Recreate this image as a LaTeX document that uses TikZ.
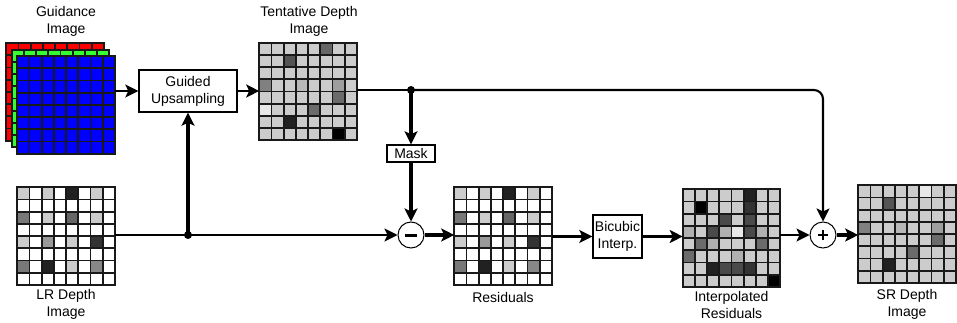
\documentclass[tikz,border=0pt]{standalone}
\usepackage{fontspec}
\setmainfont{Liberation Sans}
\usetikzlibrary{arrows.meta,calc}
\definecolor{gred}{RGB}{255,0,0}
\definecolor{ggreen}{RGB}{51,255,51}
\definecolor{gblue}{RGB}{0,0,255}
\definecolor{cellL}{gray}{0.8}
\newcommand\gridcells[3]{%
  \begin{scope}[shift={(#1.north west)}]
    \fill[#2] (0,0) rectangle (97.6,97.6);
    \foreach \i/\j/\cc in {#3} {\fill[\cc] (\i*12.2,\j*12.2) rectangle ++(12.2,12.2);}
    \foreach \k in {0,...,8} {
      \draw[gridline] ({\k*12.2},0) -- ({\k*12.2},97.6);
      \draw[gridline] (0,{\k*12.2}) -- (97.6,{\k*12.2});
    }
  \end{scope}}
\tikzset{
  gridnode/.style={minimum size=97.6pt, inner sep=0pt, outer sep=0pt},
  gridline/.style={line width=1.8pt, black!90, line cap=rect},
  boxnode/.style={draw, line width=1.4pt, align=center, inner sep=2pt, fill=white},
  lbl/.style={align=center, inner sep=0pt},
  tip/.style={-{Stealth[length=13pt,width=13pt,inset=3pt]}},
  wire/.style={line width=2.1pt},
  heavy/.style={line width=3.1pt},
  opnode/.style={circle, draw, line width=1pt, minimum size=26pt, inner sep=0pt, fill=white},
  dot/.style={circle, fill=black, inner sep=0pt, minimum size=8pt}
}
\begin{document}
\begin{tikzpicture}[x=1pt,y=-1pt,font=\fontsize{14}{17}\selectfont]
\useasboundingbox (0,0) rectangle (957,323);
% grid nodes
\node[gridnode] (guideR) at (55,92) {};
\node[gridnode] (guideG) at (60.5,98.5) {};
\node[gridnode] (guideB) at (66,105) {};
\node[gridnode] (tent) at (308,91.5) {};
\node[gridnode] (lr) at (66,236) {};
\node[gridnode] (res) at (503,236) {};
\node[gridnode] (interp) at (731.5,238) {};
\node[gridnode] (sr) at (907,234) {};
% grid contents
\gridcells{guideR}{gred}{0/0/gred}
\gridcells{guideG}{ggreen}{0/0/ggreen}
\gridcells{guideB}{gblue}{0/0/gblue}
\gridcells{tent}{cellL}{5/0/black!60, 2/1/black!67, 0/3/black!50, 3/3/black!28, 6/3/black!38, 6/4/black!58, 0/5/black!9, 4/5/black!58, 2/6/black!87, 6/7/black!100}
\gridcells{lr}{white}{0/0/cellL, 2/0/cellL, 4/0/black!87, 6/0/cellL, 0/2/black!53, 2/2/cellL, 4/2/black!60, 6/2/cellL, 0/4/cellL, 2/4/black!40, 4/4/cellL, 6/4/black!80, 0/6/black!53, 2/6/black!87, 4/6/cellL, 6/6/black!47}
\gridcells{res}{white}{0/0/cellL, 2/0/cellL, 4/0/black!87, 6/0/cellL, 0/2/black!53, 2/2/cellL, 4/2/black!60, 6/2/cellL, 0/4/cellL, 2/4/black!40, 4/4/cellL, 6/4/black!80, 0/6/black!53, 2/6/black!87, 4/6/cellL, 6/6/black!47}
\gridcells{interp}{cellL}{5/0/black!87, 1/1/black!100, 5/1/black!80, 3/2/black!71, 5/2/black!71, 0/3/black!31, 2/3/black!71, 3/3/black!31, 4/3/black!9, 5/3/black!71, 6/3/black!31, 1/4/black!58, 2/4/black!31, 6/4/black!58, 0/5/black!58, 4/5/black!31, 2/6/black!87, 3/6/black!71, 4/6/black!71, 5/6/black!80, 7/7/black!100}
\gridcells{sr}{cellL}{5/0/black!9, 2/1/black!67, 0/3/black!50, 3/3/black!28, 6/3/black!38, 6/4/black!58, 4/5/black!58, 2/6/black!87}
% labels
\node[lbl] (tGuide) at (66,21.5) {Guidance\\Image};
\node[lbl] (tTent) at (309,21.5) {Tentative Depth\\Image};
\node[lbl] (tLR) at (66,304) {LR Depth\\Image};
\node[lbl] (tRes) at (503,297) {Residuals};
\node[lbl] (tInt) at (731.5,304.5) {Interpolated\\Residuals};
\node[lbl] (tSR) at (907,304) {SR Depth\\Image};
% boxes and operators
\node[boxnode, minimum width=98pt, minimum height=42pt] (gu) at (188,91) {Guided\\Upsampling};
\node[boxnode, minimum width=48pt, minimum height=17pt, inner sep=1pt] (mask) at (411,153.5) {Mask};
\node[boxnode, minimum width=49pt, minimum height=43pt, inner sep=1pt] (bic) at (617.5,236.5) {Bicubic\\Interp.};
\node[opnode] (minus) at (411,235) {};
\node[opnode] (plus) at (823,235) {};
\draw[line width=3pt] ([xshift=-6pt]minus.center) -- ([xshift=6pt]minus.center);
\draw[line width=2.5pt] ([xshift=-5pt]plus.center) -- ([xshift=5pt]plus.center);
\draw[line width=2.5pt] ([yshift=-5pt]plus.center) -- ([yshift=5pt]plus.center);
\node[dot] (j1) at (411,90) {};
\node[dot] (j2) at (188,235) {};
% connectors
\draw[wire,tip] (guideB.east |- gu.west) -- (gu.west);
\draw[wire,tip] (gu.east) -- (gu.east -| tent.west);
\draw[wire] (tent.east |- j1) -- (j1.center);
\draw[wire,tip,rounded corners=9pt] (j1.center) -- (j1 -| plus) -- (plus.north);
\draw[heavy,tip] (j1.center) -- (mask.north);
\draw[heavy,tip] (mask.south) -- (minus.north);
\draw[wire] (lr.east |- j2) -- (j2.center);
\draw[heavy,tip] (j2.center) -- (gu.south);
\draw[wire,tip] (j2.center) -- (minus.west);
\draw[heavy,tip] (minus.east) -- (minus.east -| res.west);
\draw[wire,tip] (res.east |- bic.west) -- (bic.west);
\draw[wire,tip] (bic.east) -- (bic.east -| interp.west);
\draw[wire,tip] (interp.east |- plus.west) -- (plus.west);
\draw[heavy,tip] (plus.east) -- (plus.east -| sr.west);
\end{tikzpicture}
\end{document}
